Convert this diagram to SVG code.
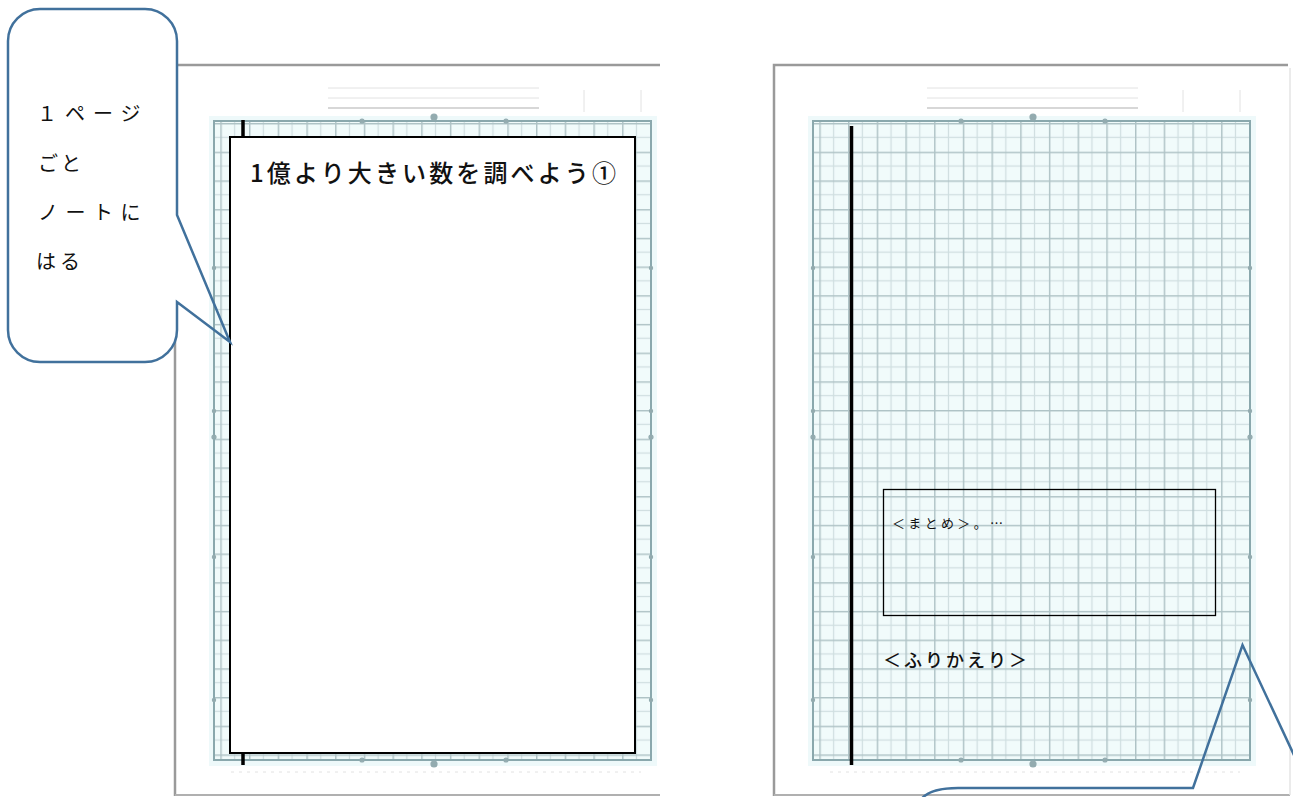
<svg xmlns="http://www.w3.org/2000/svg" width="1293" height="797" viewBox="0 0 1293 797">
  <style>
    .edge { stroke: #9a9a9a; stroke-width: 2.5; fill: none; }
    .gridArea { fill: url(#grid); stroke: #8aa8ad; stroke-width: 2; }
    .halo { fill: #eef9fa; }
    .faint { stroke: #e2e2e2; stroke-width: 1; }
    .mark { stroke: #93abaf; stroke-width: 1.2; fill: #93abaf; }
    .callout { fill: none; stroke: #41719c; stroke-width: 2.5; stroke-linejoin: miter; }
    .jp { font-family: "Noto Sans CJK JP", "Liberation Serif", sans-serif; fill: #111111; }
    .thick { stroke: #000000; stroke-width: 3.5; }
  </style>
  <defs>
    <pattern id="grid" patternUnits="userSpaceOnUse" x="819.3" y="123" width="28.7" height="28.7">
      <rect x="0" y="0" width="28.7" height="28.7" fill="#f1fbfb"/>
      <line x1="14.35" y1="0" x2="14.35" y2="28.7" stroke="#cfdee0" stroke-width="1.2"/>
      <line x1="0" y1="14.35" x2="28.7" y2="14.35" stroke="#cfdee0" stroke-width="1.2"/>
      <line x1="0.7" y1="0" x2="0.7" y2="28.7" stroke="#afc3c6" stroke-width="1.5"/>
      <line x1="0" y1="0.7" x2="28.7" y2="0.7" stroke="#afc3c6" stroke-width="1.5"/>
    </pattern>
    <clipPath id="leftClip">
      <rect x="0" y="0" width="660" height="797"/>
    </clipPath>
    <g id="pageTemplate">
      <rect x="774" y="65" width="516" height="731" fill="#ffffff"/>
      <path class="edge" d="M774,796 L774,65 L1288,65"/>
      <line x1="774" y1="795" x2="1290" y2="795" stroke="#b0b0b0" stroke-width="2"/>
      <line x1="1290" y1="68" x2="1290" y2="795" stroke="#e4e4e4" stroke-width="1.5"/>
      <line class="faint" x1="927" y1="88" x2="1138" y2="88"/>
      <line class="faint" x1="927" y1="98" x2="1138" y2="98"/>
      <line x1="927" y1="108" x2="1138" y2="108" stroke="#cacaca" stroke-width="1.5"/>
      <line class="faint" x1="1183" y1="90" x2="1183" y2="112"/>
      <line class="faint" x1="1240" y1="90" x2="1240" y2="112"/>
      <rect class="halo" x="808" y="116" width="448" height="650"/>
      <rect class="gridArea" x="813" y="121" width="437" height="639"/>
      <circle class="mark" cx="1033" cy="117" r="3"/>
      <circle class="mark" cx="961" cy="121" r="2"/>
      <circle class="mark" cx="1105" cy="121" r="2"/>
      <circle class="mark" cx="1033" cy="764" r="3"/>
      <circle class="mark" cx="961" cy="760" r="2"/>
      <circle class="mark" cx="1105" cy="760" r="2"/>
      <circle class="mark" cx="813" cy="268" r="1.6"/>
      <circle class="mark" cx="813" cy="411" r="1.6"/>
      <circle class="mark" cx="813" cy="437" r="2"/>
      <circle class="mark" cx="813" cy="557" r="1.6"/>
      <circle class="mark" cx="813" cy="700" r="1.6"/>
      <circle class="mark" cx="1250" cy="268" r="1.6"/>
      <circle class="mark" cx="1250" cy="411" r="1.6"/>
      <circle class="mark" cx="1250" cy="437" r="2"/>
      <circle class="mark" cx="1250" cy="557" r="1.6"/>
      <circle class="mark" cx="1250" cy="700" r="1.6"/>
      <line class="faint" x1="830" y1="772" x2="1240" y2="772" stroke-dasharray="3 5"/>
    </g>
  </defs>

  <rect x="0" y="0" width="1293" height="797" fill="#ffffff"/>

  <g id="left-page" clip-path="url(#leftClip)">
    <use href="#pageTemplate" transform="translate(-599,0)"/>
  </g>

  <g id="right-page">
    <use href="#pageTemplate"/>
  </g>

  <g id="title-card">
    <rect x="230" y="137" width="405" height="616" fill="#ffffff" stroke="#000000" stroke-width="2"/>
    <line class="thick" x1="243" y1="120" x2="243" y2="137"/>
    <line class="thick" x1="243" y1="753" x2="243" y2="765"/>
    <text class="jp" x="250" y="182" font-size="24" font-weight="500" textLength="366" lengthAdjust="spacing">1億より大きい数を調べよう①</text>
  </g>

  <g id="margin-line">
    <line class="thick" x1="851.5" y1="126" x2="851.5" y2="765"/>
  </g>

  <g id="summary-box">
    <rect x="883.5" y="489.5" width="332" height="126" fill="none" stroke="#000000" stroke-width="1.3"/>
    <text class="jp" x="892" y="528" font-size="13" textLength="111" lengthAdjust="spacing">＜まとめ＞。…</text>
  </g>

  <g id="reflection-label">
    <text class="jp" x="883" y="667" font-size="18" font-weight="500" textLength="144" lengthAdjust="spacing">＜ふりかえり＞</text>
  </g>

  <g id="callout-top-left">
    <rect x="8" y="9" width="169" height="353" rx="32" ry="32" fill="#ffffff" stroke="none"/>
    <text class="jp" x="37" y="121" font-size="20" letter-spacing="8">１ページ</text>
    <text class="jp" x="38" y="171" font-size="20" letter-spacing="3">ごと</text>
    <text class="jp" x="38" y="220" font-size="20" letter-spacing="7.5">ノートに</text>
    <text class="jp" x="36" y="269" font-size="20" letter-spacing="4">はる</text>
  </g>

  <g id="connectors">
    <path class="callout" d="M177,302 L177,330 A32,32 0 0 1 145,362 L40,362 A32,32 0 0 1 8,330 L8,41 A32,32 0 0 1 40,9 L145,9 A32,32 0 0 1 177,41 L177,215 L230,342 Z"/>
    <path class="callout" d="M918,805 Q924,788 958,788 L1193,788 L1242.5,645 L1300,768"/>
  </g>
</svg>
